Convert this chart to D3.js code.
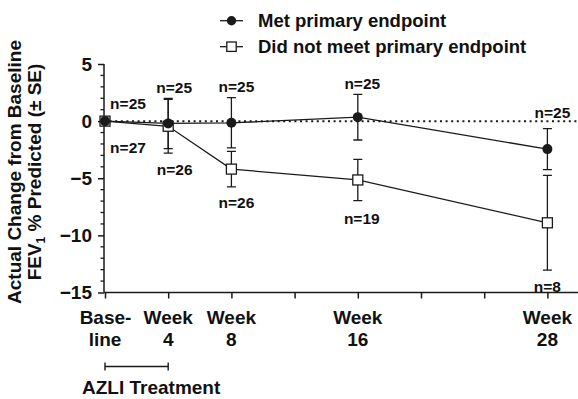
<!DOCTYPE html>
<html>
<head>
<meta charset="utf-8">
<script src="https://cdn.jsdelivr.net/npm/d3@7"></script>
<style>
  html, body { margin: 0; padding: 0; background: #fff; }
  svg text { font-family: "Liberation Sans", Arial, Helvetica, sans-serif; font-weight: bold; fill: #111; }
</style>
</head>
<body>
<svg id="chart" width="578" height="399"></svg>
<script>
// ---- data ----
const weeks = [0, 4, 8, 16, 28];
const weekLabels = [["Base-", "line"], ["Week", "4"], ["Week", "8"], ["Week", "16"], ["Week", "28"]];
const xTicks = [0, 4, 8, 12, 16, 20, 24, 28];
const yTicks = [5, 0, -5, -10, -15];
const metMean = [0, -0.2, -0.15, 0.35, -2.45];
const metSE   = [0, 2.2, 2.2, 2.0, 1.8];
const notMean = [0, -0.45, -4.2, -5.15, -8.9];
const notSE   = [0, 2.35, 1.55, 1.8, 4.15];
const nMet = [25, 25, 25, 25, 25];
const nNot = [27, 26, 26, 19, 8];
const seriesNames = ["Met primary endpoint", "Did not meet primary endpoint"];
const yTitle = ["Actual Change from Baseline", "FEV", "1", " % Predicted (\u00B1 SE)"];
const treatmentLabel = "AZLI Treatment";
const treatmentSpan = [0, 4];

// ---- layout ----
const svg = d3.select("#chart");
const x = d3.scaleLinear().domain([0, 30]).range([105, 579]);
const y = d3.scaleLinear().domain([-15, 5]).range([292.5, 64]);
const axisX0 = 104;
const ink = "#1a1a1a";

// y axis
const yAxis = d3.axisLeft(y).tickValues(yTicks).tickSize(6).tickPadding(6);
const gy = svg.append("g").attr("transform", `translate(${axisX0},0)`).call(yAxis);
gy.select(".domain").attr("stroke", ink).attr("stroke-width", 1.5).attr("d", `M0,${y(5)}V${y(-15)}`);
gy.selectAll(".tick line").attr("stroke", ink).attr("stroke-width", 1.5);
gy.selectAll(".tick text").style("font-size", "19px").attr("fill", ink);
// minor ticks
const minor = d3.range(-15, 6).filter(v => v % 5 !== 0);
gy.selectAll(".minor").data(minor).enter().append("line")
  .attr("x1", -3.5).attr("x2", 0).attr("y1", d => y(d)).attr("y2", d => y(d))
  .attr("stroke", ink).attr("stroke-width", 1.3);

// x axis
const xAxis = d3.axisBottom(x).tickValues(xTicks).tickSize(6).tickFormat("");
const gx = svg.append("g").attr("transform", `translate(0,${y(-15)})`).call(xAxis);
gx.select(".domain").attr("stroke", ink).attr("stroke-width", 1.5).attr("d", `M${axisX0},0H${x(30)}`);
gx.selectAll(".tick line").attr("stroke", ink).attr("stroke-width", 1.5);

// x labels (two lines)
weeks.forEach((w, i) => {
  const t = svg.append("text").attr("x", x(w) + (i === 0 ? 0.5 : 0)).attr("y", y(-15) + 31)
    .attr("text-anchor", "middle").style("font-size", "19px");
  t.append("tspan").attr("x", x(w) + (i === 0 ? 0.5 : 0)).text(weekLabels[i][0]);
  t.append("tspan").attr("x", x(w)).attr("dy", 22).text(weekLabels[i][1]);
});

// treatment bracket
const by = 366.5;
svg.append("path")
  .attr("d", `M${x(treatmentSpan[0])},${by}H${x(treatmentSpan[1])}M${x(treatmentSpan[0])},${by-4}V${by+4}M${x(treatmentSpan[1])},${by-4}V${by+4}`)
  .attr("stroke", ink).attr("stroke-width", 1.4).attr("fill", "none");
svg.append("text").attr("x", 82).attr("y", 394).style("font-size", "19px").text(treatmentLabel);

// y title
const yt = svg.append("text").attr("transform", "translate(20.5,172) rotate(-90)")
  .attr("text-anchor", "middle").style("font-size", "19px").text(yTitle[0]);
const yt2 = svg.append("text").attr("transform", "translate(41,172) rotate(-90)")
  .attr("text-anchor", "middle").style("font-size", "19px");
yt2.append("tspan").text(yTitle[1]);
yt2.append("tspan").attr("dy", 4).style("font-size", "12px").text(yTitle[2]);
yt2.append("tspan").attr("dy", -4).text(yTitle[3]);

// zero dotted line
svg.append("line").attr("x1", axisX0).attr("x2", x(30)).attr("y1", y(0)).attr("y2", y(0))
  .attr("stroke", ink).attr("stroke-width", 2).attr("stroke-dasharray", "2,3.6");

// series
const line = d3.line().x(d => x(d[0])).y(d => y(d[1]));
function errorBars(means, ses) {
  weeks.forEach((w, i) => {
    if (ses[i] <= 0) return;
    const cx = x(w), yt = y(means[i] + ses[i]), yb = y(means[i] - ses[i]);
    svg.append("path")
      .attr("d", `M${cx},${yt}V${yb}M${cx-4.5},${yt}H${cx+4.5}M${cx-4.5},${yb}H${cx+4.5}`)
      .attr("stroke", ink).attr("stroke-width", 1.3).attr("fill", "none");
  });
}
errorBars(notMean, notSE);
errorBars(metMean, metSE);
svg.append("path").datum(weeks.map((w, i) => [w, notMean[i]])).attr("d", line)
  .attr("fill", "none").attr("stroke", ink).attr("stroke-width", 1.3);
svg.append("path").datum(weeks.map((w, i) => [w, metMean[i]])).attr("d", line)
  .attr("fill", "none").attr("stroke", ink).attr("stroke-width", 1.3);
weeks.forEach((w, i) => {
  svg.append("rect").attr("x", x(w) - 5).attr("y", y(notMean[i]) - 5).attr("width", 10).attr("height", 10)
    .attr("fill", "#fff").attr("stroke", ink).attr("stroke-width", 1.3);
});
weeks.forEach((w, i) => {
  svg.append("circle").attr("cx", x(w)).attr("cy", y(metMean[i])).attr("r", 5).attr("fill", ink);
});

// n labels
const topOff = [0, 11, 11, 11, 16];
const botOff = [0, 16.5, 16, 18, 16];
const topDx = [23, 6, 5, 4.5, 5];
const botDx = [23, 6.5, 5, 4, 0];
weeks.forEach((w, i) => {
  const ty = i === 0 ? y(metMean[i]) - 18 : y(metMean[i] + metSE[i]) - topOff[i];
  const byy = i === 0 ? y(notMean[i]) + 26 : y(notMean[i] - notSE[i]) + botOff[i];
  svg.append("text").attr("x", x(w) + topDx[i]).attr("y", ty).attr("dy", "0.36em")
    .attr("text-anchor", "middle").style("font-size", "15.5px").text("n=" + nMet[i]);
  svg.append("text").attr("x", x(w) + botDx[i]).attr("y", byy).attr("dy", "0.36em")
    .attr("text-anchor", "middle").style("font-size", "15.5px").text("n=" + nNot[i]);
});

// legend
const lg = svg.append("g");
[0, 1].forEach(k => {
  const ly = k === 0 ? 20.7 : 46.7;
  lg.append("line").attr("x1", 220).attr("x2", 243).attr("y1", ly).attr("y2", ly)
    .attr("stroke", ink).attr("stroke-width", 1.3);
  if (k === 0) lg.append("circle").attr("cx", 231.5).attr("cy", ly).attr("r", 4.7).attr("fill", ink);
  else lg.append("rect").attr("x", 226.8).attr("y", ly - 4.7).attr("width", 9.4).attr("height", 9.4)
    .attr("fill", "#fff").attr("stroke", ink).attr("stroke-width", 1.3);
  lg.append("text").attr("x", 258).attr("y", ly).attr("dy", "0.35em").style("font-size", "18.5px").text(seriesNames[k]);
});
</script>
</body>
</html>
